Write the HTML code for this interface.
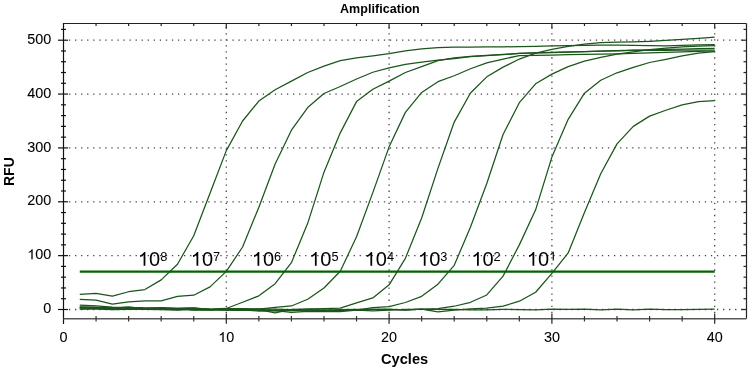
<!DOCTYPE html>
<html><head><meta charset="utf-8"><style>
html,body{margin:0;padding:0;background:#fff;}
body{width:749px;height:369px;overflow:hidden;}
svg{display:block;will-change:transform;}
</style></head><body>
<svg width="749" height="369" viewBox="0 0 749 369">
<rect width="749" height="369" fill="#fff"/>
<g stroke="#454545" stroke-width="1.3" stroke-dasharray="1.3 4.756"><line x1="68.95" y1="309.50" x2="743.50" y2="309.50"/><line x1="68.95" y1="255.64" x2="743.50" y2="255.64"/><line x1="68.95" y1="201.78" x2="743.50" y2="201.78"/><line x1="68.95" y1="147.92" x2="743.50" y2="147.92"/><line x1="68.95" y1="94.06" x2="743.50" y2="94.06"/><line x1="68.95" y1="40.20" x2="743.50" y2="40.20"/><line x1="226.30" y1="27.09" x2="226.30" y2="315.50"/><line x1="389.10" y1="27.09" x2="389.10" y2="315.50"/><line x1="551.90" y1="27.09" x2="551.90" y2="315.50"/><line x1="714.70" y1="27.09" x2="714.70" y2="315.50"/></g>
<g fill="none" stroke="#1b551b" stroke-width="1.25" stroke-linejoin="round"><polyline points="79.78,308.91 96.06,309.13 112.34,309.62 128.62,309.47 144.90,309.33 161.18,309.55 177.46,310.06 193.74,309.38 210.02,309.67 226.30,309.63 242.58,310.33 258.86,310.13 275.14,310.27 291.42,309.58 307.70,309.97 323.98,310.03 340.26,309.73 356.54,309.25 372.82,309.28 389.10,309.71 405.38,309.80 421.66,309.14 437.94,309.44 454.22,309.33 470.50,309.85 486.78,309.88 503.06,309.34 519.34,309.56 535.62,309.87 551.90,309.12 568.18,309.38 584.46,309.24 600.74,309.86 617.02,309.19 633.30,309.87 649.58,309.19 665.86,309.54 682.14,309.64 698.42,309.45 714.70,309.13"/><polyline points="79.78,307.97 96.06,307.96 112.34,308.19 128.62,307.53 144.90,308.08 161.18,308.20 177.46,308.52 193.74,310.13 210.02,310.04 226.30,309.81 242.58,309.90 258.86,311.02 275.14,310.96 291.42,310.32 307.70,310.87 323.98,310.49 340.26,310.68 356.54,309.57 372.82,309.28 389.10,309.00 405.38,310.19 421.66,309.13 437.94,311.92 454.22,310.12 470.50,308.84 486.78,308.16 503.06,306.21 519.34,301.21 535.62,292.26 551.90,273.41 568.18,252.95 584.46,212.55 600.74,173.77 617.02,143.88 633.30,126.38 649.58,116.14 665.86,110.22 682.14,104.83 698.42,101.60 714.70,100.52"/><polyline points="79.78,307.22 96.06,307.27 112.34,308.09 128.62,307.07 144.90,308.35 161.18,308.49 177.46,308.46 193.74,308.09 210.02,309.10 226.30,308.42 242.58,309.32 258.86,309.45 275.14,310.54 291.42,312.48 307.70,311.49 323.98,311.66 340.26,311.70 356.54,310.06 372.82,310.87 389.10,310.08 405.38,309.38 421.66,309.40 437.94,308.72 454.22,306.24 470.50,302.28 486.78,294.96 503.06,276.11 519.34,244.87 535.62,209.86 551.90,157.08 568.18,119.37 584.46,93.20 600.74,80.22 617.02,72.79 633.30,67.40 649.58,62.50 665.86,59.32 682.14,55.82 698.42,53.13 714.70,51.73"/><polyline points="79.78,309.14 96.06,308.28 112.34,307.99 128.62,308.34 144.90,308.53 161.18,309.11 177.46,309.73 193.74,308.79 210.02,309.68 226.30,308.98 242.58,308.69 258.86,309.68 275.14,312.90 291.42,309.27 307.70,309.65 323.98,310.43 340.26,310.32 356.54,310.10 372.82,307.73 389.10,306.55 405.38,302.50 421.66,296.30 437.94,284.19 454.22,265.33 470.50,227.09 486.78,183.47 503.06,134.46 519.34,102.68 535.62,83.83 551.90,74.13 568.18,66.59 584.46,61.21 600.74,57.44 617.02,54.20 633.30,51.78 649.58,49.52 665.86,48.01 682.14,46.93 698.42,46.12 714.70,45.59"/><polyline points="79.78,305.10 96.06,305.93 112.34,307.22 128.62,307.58 144.90,308.24 161.18,307.52 177.46,308.26 193.74,308.16 210.02,309.25 226.30,309.65 242.58,308.86 258.86,308.77 275.14,309.22 291.42,309.51 307.70,308.95 323.98,308.55 340.26,308.09 356.54,302.82 372.82,297.97 389.10,284.83 405.38,258.33 421.66,217.94 437.94,168.39 454.22,122.07 470.50,92.98 486.78,76.82 503.06,67.13 519.34,59.05 535.62,53.13 551.90,49.36 568.18,46.39 584.46,44.24 600.74,42.62 617.02,42.09 633.30,41.82 649.58,41.28 665.86,40.47 682.14,39.39 698.42,38.31 714.70,37.18"/><polyline points="79.78,307.53 96.06,307.70 112.34,308.39 128.62,307.65 144.90,308.91 161.18,309.17 177.46,309.19 193.74,309.54 210.02,309.42 226.30,310.09 242.58,310.36 258.86,309.02 275.14,307.28 291.42,305.96 307.70,299.27 323.98,287.96 340.26,271.26 356.54,236.79 372.82,192.62 389.10,146.84 405.38,112.37 421.66,92.44 437.94,81.67 454.22,75.75 470.50,68.75 486.78,62.82 503.06,59.05 519.34,55.55 535.62,55.28 551.90,55.01 568.18,54.74 584.46,54.47 600.74,54.20 617.02,53.80 633.30,53.40 649.58,52.91 665.86,52.43 682.14,51.94 698.42,51.46 714.70,50.97"/><polyline points="79.78,306.84 96.06,307.47 112.34,308.11 128.62,307.15 144.90,308.52 161.18,308.59 177.46,308.61 193.74,308.05 210.02,309.68 226.30,308.51 242.58,302.28 258.86,295.82 275.14,283.65 291.42,262.64 307.70,223.32 323.98,172.16 340.26,132.84 356.54,101.60 372.82,89.21 389.10,81.13 405.38,72.52 421.66,66.59 437.94,60.67 454.22,57.97 470.50,56.36 486.78,55.39 503.06,54.74 519.34,53.40 535.62,52.86 551.90,52.32 568.18,51.96 584.46,51.60 600.74,51.24 617.02,50.70 633.30,50.16 649.58,49.81 665.86,49.45 682.14,49.10 698.42,48.74 714.70,48.39"/><polyline points="79.78,299.27 96.06,300.07 112.34,304.11 128.62,301.96 144.90,300.88 161.18,300.88 177.46,296.30 193.74,295.23 210.02,286.88 226.30,271.42 242.58,247.02 258.86,207.17 275.14,164.08 291.42,130.15 307.70,107.53 323.98,93.52 340.26,86.52 356.54,78.98 372.82,72.25 389.10,67.94 405.38,64.44 421.66,62.01 437.94,60.13 454.22,58.51 470.50,56.63 486.78,55.55 503.06,54.47 519.34,53.40 535.62,52.99 551.90,52.59 568.18,52.14 584.46,51.69 600.74,51.24 617.02,50.84 633.30,50.43 649.58,50.35 665.86,50.26 682.14,50.17 698.42,50.09 714.70,50.00"/><polyline points="79.78,294.42 96.06,293.34 112.34,296.04 128.62,291.73 144.90,289.57 161.18,279.88 177.46,264.26 193.74,235.71 210.02,193.16 226.30,150.61 242.58,120.99 258.86,101.06 275.14,89.75 291.42,81.13 307.70,72.52 323.98,66.05 340.26,60.67 356.54,57.97 372.82,55.82 389.10,53.67 405.38,50.97 421.66,48.82 437.94,47.74 454.22,47.20 470.50,47.07 486.78,46.93 503.06,46.80 519.34,46.66 535.62,46.29 551.90,45.91 568.18,45.59 584.46,45.32 600.74,45.05 617.02,45.18 633.30,45.32 649.58,45.59 665.86,45.86 682.14,45.41 698.42,44.96 714.70,44.51"/></g>
<line x1="79.78" y1="271.7" x2="714.70" y2="271.7" stroke="#006400" stroke-width="2.2"/>
<line x1="63.5" y1="23.0" x2="63.5" y2="324" stroke="#111" stroke-width="1.2"/><line x1="63.5" y1="23.5" x2="746.5" y2="23.5" stroke="#222" stroke-width="1.2"/><line x1="746.5" y1="23.5" x2="746.5" y2="318.5" stroke="#222" stroke-width="1.2"/><line x1="63.5" y1="318.8" x2="746.5" y2="318.8" stroke="#585858" stroke-width="1.5"/><line x1="58" y1="309.50" x2="68" y2="309.50" stroke="#111" stroke-width="1.2"/><line x1="741.5" y1="309.50" x2="746.5" y2="309.50" stroke="#222" stroke-width="1.2"/><line x1="61" y1="298.73" x2="66" y2="298.73" stroke="#111" stroke-width="1.2"/><line x1="743.5" y1="298.73" x2="746.5" y2="298.73" stroke="#222" stroke-width="1.2"/><line x1="61" y1="287.96" x2="66" y2="287.96" stroke="#111" stroke-width="1.2"/><line x1="743.5" y1="287.96" x2="746.5" y2="287.96" stroke="#222" stroke-width="1.2"/><line x1="61" y1="277.18" x2="66" y2="277.18" stroke="#111" stroke-width="1.2"/><line x1="743.5" y1="277.18" x2="746.5" y2="277.18" stroke="#222" stroke-width="1.2"/><line x1="61" y1="266.41" x2="66" y2="266.41" stroke="#111" stroke-width="1.2"/><line x1="743.5" y1="266.41" x2="746.5" y2="266.41" stroke="#222" stroke-width="1.2"/><line x1="58" y1="255.64" x2="68" y2="255.64" stroke="#111" stroke-width="1.2"/><line x1="741.5" y1="255.64" x2="746.5" y2="255.64" stroke="#222" stroke-width="1.2"/><line x1="61" y1="244.87" x2="66" y2="244.87" stroke="#111" stroke-width="1.2"/><line x1="743.5" y1="244.87" x2="746.5" y2="244.87" stroke="#222" stroke-width="1.2"/><line x1="61" y1="234.10" x2="66" y2="234.10" stroke="#111" stroke-width="1.2"/><line x1="743.5" y1="234.10" x2="746.5" y2="234.10" stroke="#222" stroke-width="1.2"/><line x1="61" y1="223.32" x2="66" y2="223.32" stroke="#111" stroke-width="1.2"/><line x1="743.5" y1="223.32" x2="746.5" y2="223.32" stroke="#222" stroke-width="1.2"/><line x1="61" y1="212.55" x2="66" y2="212.55" stroke="#111" stroke-width="1.2"/><line x1="743.5" y1="212.55" x2="746.5" y2="212.55" stroke="#222" stroke-width="1.2"/><line x1="58" y1="201.78" x2="68" y2="201.78" stroke="#111" stroke-width="1.2"/><line x1="741.5" y1="201.78" x2="746.5" y2="201.78" stroke="#222" stroke-width="1.2"/><line x1="61" y1="191.01" x2="66" y2="191.01" stroke="#111" stroke-width="1.2"/><line x1="743.5" y1="191.01" x2="746.5" y2="191.01" stroke="#222" stroke-width="1.2"/><line x1="61" y1="180.24" x2="66" y2="180.24" stroke="#111" stroke-width="1.2"/><line x1="743.5" y1="180.24" x2="746.5" y2="180.24" stroke="#222" stroke-width="1.2"/><line x1="61" y1="169.46" x2="66" y2="169.46" stroke="#111" stroke-width="1.2"/><line x1="743.5" y1="169.46" x2="746.5" y2="169.46" stroke="#222" stroke-width="1.2"/><line x1="61" y1="158.69" x2="66" y2="158.69" stroke="#111" stroke-width="1.2"/><line x1="743.5" y1="158.69" x2="746.5" y2="158.69" stroke="#222" stroke-width="1.2"/><line x1="58" y1="147.92" x2="68" y2="147.92" stroke="#111" stroke-width="1.2"/><line x1="741.5" y1="147.92" x2="746.5" y2="147.92" stroke="#222" stroke-width="1.2"/><line x1="61" y1="137.15" x2="66" y2="137.15" stroke="#111" stroke-width="1.2"/><line x1="743.5" y1="137.15" x2="746.5" y2="137.15" stroke="#222" stroke-width="1.2"/><line x1="61" y1="126.38" x2="66" y2="126.38" stroke="#111" stroke-width="1.2"/><line x1="743.5" y1="126.38" x2="746.5" y2="126.38" stroke="#222" stroke-width="1.2"/><line x1="61" y1="115.60" x2="66" y2="115.60" stroke="#111" stroke-width="1.2"/><line x1="743.5" y1="115.60" x2="746.5" y2="115.60" stroke="#222" stroke-width="1.2"/><line x1="61" y1="104.83" x2="66" y2="104.83" stroke="#111" stroke-width="1.2"/><line x1="743.5" y1="104.83" x2="746.5" y2="104.83" stroke="#222" stroke-width="1.2"/><line x1="58" y1="94.06" x2="68" y2="94.06" stroke="#111" stroke-width="1.2"/><line x1="741.5" y1="94.06" x2="746.5" y2="94.06" stroke="#222" stroke-width="1.2"/><line x1="61" y1="83.29" x2="66" y2="83.29" stroke="#111" stroke-width="1.2"/><line x1="743.5" y1="83.29" x2="746.5" y2="83.29" stroke="#222" stroke-width="1.2"/><line x1="61" y1="72.52" x2="66" y2="72.52" stroke="#111" stroke-width="1.2"/><line x1="743.5" y1="72.52" x2="746.5" y2="72.52" stroke="#222" stroke-width="1.2"/><line x1="61" y1="61.74" x2="66" y2="61.74" stroke="#111" stroke-width="1.2"/><line x1="743.5" y1="61.74" x2="746.5" y2="61.74" stroke="#222" stroke-width="1.2"/><line x1="61" y1="50.97" x2="66" y2="50.97" stroke="#111" stroke-width="1.2"/><line x1="743.5" y1="50.97" x2="746.5" y2="50.97" stroke="#222" stroke-width="1.2"/><line x1="58" y1="40.20" x2="68" y2="40.20" stroke="#111" stroke-width="1.2"/><line x1="741.5" y1="40.20" x2="746.5" y2="40.20" stroke="#222" stroke-width="1.2"/><line x1="61" y1="29.43" x2="66" y2="29.43" stroke="#111" stroke-width="1.2"/><line x1="743.5" y1="29.43" x2="746.5" y2="29.43" stroke="#222" stroke-width="1.2"/><line x1="96.06" y1="23.5" x2="96.06" y2="26.0" stroke="#222" stroke-width="1.2"/><line x1="96.06" y1="316" x2="96.06" y2="321.5" stroke="#333" stroke-width="1.2"/><line x1="128.62" y1="23.5" x2="128.62" y2="26.0" stroke="#222" stroke-width="1.2"/><line x1="128.62" y1="316" x2="128.62" y2="321.5" stroke="#333" stroke-width="1.2"/><line x1="161.18" y1="23.5" x2="161.18" y2="26.0" stroke="#222" stroke-width="1.2"/><line x1="161.18" y1="316" x2="161.18" y2="321.5" stroke="#333" stroke-width="1.2"/><line x1="193.74" y1="23.5" x2="193.74" y2="26.0" stroke="#222" stroke-width="1.2"/><line x1="193.74" y1="316" x2="193.74" y2="321.5" stroke="#333" stroke-width="1.2"/><line x1="226.30" y1="23.5" x2="226.30" y2="28.5" stroke="#222" stroke-width="1.2"/><line x1="226.30" y1="313.5" x2="226.30" y2="323.7" stroke="#222" stroke-width="1.2"/><line x1="258.86" y1="23.5" x2="258.86" y2="26.0" stroke="#222" stroke-width="1.2"/><line x1="258.86" y1="316" x2="258.86" y2="321.5" stroke="#333" stroke-width="1.2"/><line x1="291.42" y1="23.5" x2="291.42" y2="26.0" stroke="#222" stroke-width="1.2"/><line x1="291.42" y1="316" x2="291.42" y2="321.5" stroke="#333" stroke-width="1.2"/><line x1="323.98" y1="23.5" x2="323.98" y2="26.0" stroke="#222" stroke-width="1.2"/><line x1="323.98" y1="316" x2="323.98" y2="321.5" stroke="#333" stroke-width="1.2"/><line x1="356.54" y1="23.5" x2="356.54" y2="26.0" stroke="#222" stroke-width="1.2"/><line x1="356.54" y1="316" x2="356.54" y2="321.5" stroke="#333" stroke-width="1.2"/><line x1="389.10" y1="23.5" x2="389.10" y2="28.5" stroke="#222" stroke-width="1.2"/><line x1="389.10" y1="313.5" x2="389.10" y2="323.7" stroke="#222" stroke-width="1.2"/><line x1="421.66" y1="23.5" x2="421.66" y2="26.0" stroke="#222" stroke-width="1.2"/><line x1="421.66" y1="316" x2="421.66" y2="321.5" stroke="#333" stroke-width="1.2"/><line x1="454.22" y1="23.5" x2="454.22" y2="26.0" stroke="#222" stroke-width="1.2"/><line x1="454.22" y1="316" x2="454.22" y2="321.5" stroke="#333" stroke-width="1.2"/><line x1="486.78" y1="23.5" x2="486.78" y2="26.0" stroke="#222" stroke-width="1.2"/><line x1="486.78" y1="316" x2="486.78" y2="321.5" stroke="#333" stroke-width="1.2"/><line x1="519.34" y1="23.5" x2="519.34" y2="26.0" stroke="#222" stroke-width="1.2"/><line x1="519.34" y1="316" x2="519.34" y2="321.5" stroke="#333" stroke-width="1.2"/><line x1="551.90" y1="23.5" x2="551.90" y2="28.5" stroke="#222" stroke-width="1.2"/><line x1="551.90" y1="313.5" x2="551.90" y2="323.7" stroke="#222" stroke-width="1.2"/><line x1="584.46" y1="23.5" x2="584.46" y2="26.0" stroke="#222" stroke-width="1.2"/><line x1="584.46" y1="316" x2="584.46" y2="321.5" stroke="#333" stroke-width="1.2"/><line x1="617.02" y1="23.5" x2="617.02" y2="26.0" stroke="#222" stroke-width="1.2"/><line x1="617.02" y1="316" x2="617.02" y2="321.5" stroke="#333" stroke-width="1.2"/><line x1="649.58" y1="23.5" x2="649.58" y2="26.0" stroke="#222" stroke-width="1.2"/><line x1="649.58" y1="316" x2="649.58" y2="321.5" stroke="#333" stroke-width="1.2"/><line x1="682.14" y1="23.5" x2="682.14" y2="26.0" stroke="#222" stroke-width="1.2"/><line x1="682.14" y1="316" x2="682.14" y2="321.5" stroke="#333" stroke-width="1.2"/><line x1="714.70" y1="23.5" x2="714.70" y2="28.5" stroke="#222" stroke-width="1.2"/><line x1="714.70" y1="313.5" x2="714.70" y2="323.7" stroke="#222" stroke-width="1.2"/>
<g font-family="Liberation Sans, sans-serif" fill="#000" stroke="#000" stroke-width="0.08"><text x="43.29" y="313.10" font-size="14.4">0</text><text x="27.27" y="259.24" font-size="14.4"><tspan fill="transparent" stroke="none">1</tspan>00</text><path d="M32.64 259.24L31.37 259.24L31.37 251.51C31.07 251.79 30.67 252.07 30.18 252.35C29.68 252.63 29.24 252.83 28.84 252.97L28.84 251.79C29.55 251.47 30.16 251.08 30.69 250.63C31.22 250.17 31.59 249.73 31.81 249.33L32.64 249.33Z"/><text x="27.27" y="205.38" font-size="14.4">200</text><text x="27.27" y="151.52" font-size="14.4">300</text><text x="27.27" y="97.66" font-size="14.4">400</text><text x="27.27" y="43.80" font-size="14.4">500</text><text x="59.50" y="341.90" font-size="14.4">0</text><text x="218.29" y="341.90" font-size="14.4"><tspan fill="transparent" stroke="none">1</tspan>0</text><path d="M223.66 341.90L222.39 341.90L222.39 334.17C222.09 334.45 221.69 334.73 221.20 335.01C220.70 335.29 220.25 335.49 219.86 335.63L219.86 334.45C220.56 334.13 221.18 333.74 221.71 333.29C222.24 332.83 222.61 332.39 222.83 331.99L223.66 331.99Z"/><text x="381.09" y="341.90" font-size="14.4">20</text><text x="543.89" y="341.90" font-size="14.4">30</text><text x="706.69" y="341.90" font-size="14.4">40</text></g>
<text x="379.9" y="12.7" text-anchor="middle" font-family="Liberation Sans, sans-serif" font-weight="bold" font-size="12.5" letter-spacing="0.05" fill="#000">Amplification</text>
<text x="404.6" y="364" text-anchor="middle" font-family="Liberation Sans, sans-serif" font-weight="bold" font-size="14.6" fill="#000">Cycles</text>
<text transform="translate(13.6 171.6) rotate(-90)" text-anchor="middle" font-family="Liberation Sans, sans-serif" font-weight="bold" font-size="14" fill="#000">RFU</text>
<g font-family="Liberation Sans, sans-serif" fill="#000"><text x="137.92" y="265.7" font-size="20"><tspan fill="transparent" stroke="none">1</tspan>0<tspan x="160.17" y="260.5" font-size="12.8">8</tspan></text><path d="M145.37 265.70L143.61 265.70L143.61 254.96C143.19 255.35 142.64 255.74 141.95 256.13C141.26 256.52 140.64 256.79 140.10 256.99L140.10 255.35C141.07 254.91 141.93 254.37 142.67 253.74C143.40 253.10 143.92 252.50 144.22 251.94L145.37 251.94Z"/><text x="190.82" y="265.7" font-size="20"><tspan fill="transparent" stroke="none">1</tspan>0<tspan x="213.07" y="260.5" font-size="12.8">7</tspan></text><path d="M198.27 265.70L196.51 265.70L196.51 254.96C196.09 255.35 195.54 255.74 194.85 256.13C194.16 256.52 193.54 256.79 193.00 256.99L193.00 255.35C193.97 254.91 194.83 254.37 195.57 253.74C196.30 253.10 196.82 252.50 197.12 251.94L198.27 251.94Z"/><text x="251.82" y="265.7" font-size="20"><tspan fill="transparent" stroke="none">1</tspan>0<tspan x="274.07" y="260.5" font-size="12.8">6</tspan></text><path d="M259.27 265.70L257.51 265.70L257.51 254.96C257.09 255.35 256.54 255.74 255.85 256.13C255.16 256.52 254.54 256.79 254.00 256.99L254.00 255.35C254.97 254.91 255.83 254.37 256.57 253.74C257.30 253.10 257.82 252.50 258.12 251.94L259.27 251.94Z"/><text x="309.22" y="265.7" font-size="20"><tspan fill="transparent" stroke="none">1</tspan>0<tspan x="331.47" y="260.5" font-size="12.8">5</tspan></text><path d="M316.67 265.70L314.91 265.70L314.91 254.96C314.49 255.35 313.94 255.74 313.25 256.13C312.56 256.52 311.94 256.79 311.40 256.99L311.40 255.35C312.37 254.91 313.23 254.37 313.97 253.74C314.70 253.10 315.22 252.50 315.52 251.94L316.67 251.94Z"/><text x="364.72" y="265.7" font-size="20"><tspan fill="transparent" stroke="none">1</tspan>0<tspan x="386.97" y="260.5" font-size="12.8">4</tspan></text><path d="M372.17 265.70L370.41 265.70L370.41 254.96C369.99 255.35 369.44 255.74 368.75 256.13C368.06 256.52 367.44 256.79 366.90 256.99L366.90 255.35C367.87 254.91 368.73 254.37 369.47 253.74C370.20 253.10 370.72 252.50 371.02 251.94L372.17 251.94Z"/><text x="418.12" y="265.7" font-size="20"><tspan fill="transparent" stroke="none">1</tspan>0<tspan x="440.37" y="260.5" font-size="12.8">3</tspan></text><path d="M425.57 265.70L423.81 265.70L423.81 254.96C423.39 255.35 422.84 255.74 422.15 256.13C421.46 256.52 420.84 256.79 420.30 256.99L420.30 255.35C421.27 254.91 422.13 254.37 422.87 253.74C423.60 253.10 424.12 252.50 424.42 251.94L425.57 251.94Z"/><text x="471.32" y="265.7" font-size="20"><tspan fill="transparent" stroke="none">1</tspan>0<tspan x="493.57" y="260.5" font-size="12.8">2</tspan></text><path d="M478.77 265.70L477.01 265.70L477.01 254.96C476.59 255.35 476.04 255.74 475.35 256.13C474.66 256.52 474.04 256.79 473.50 256.99L473.50 255.35C474.47 254.91 475.33 254.37 476.07 253.74C476.80 253.10 477.32 252.50 477.62 251.94L478.77 251.94Z"/><text x="526.82" y="265.7" font-size="20"><tspan fill="transparent" stroke="none">1</tspan>0<tspan x="549.07" y="260.5" font-size="12.8" fill="transparent">1</tspan></text><path d="M534.27 265.70L532.51 265.70L532.51 254.96C532.09 255.35 531.54 255.74 530.85 256.13C530.16 256.52 529.54 256.79 529.00 256.99L529.00 255.35C529.97 254.91 530.83 254.37 531.57 253.74C532.30 253.10 532.82 252.50 533.12 251.94L534.27 251.94ZM553.83 260.50L552.71 260.50L552.71 253.62C552.44 253.88 552.08 254.12 551.65 254.38C551.20 254.62 550.81 254.80 550.46 254.93L550.46 253.88C551.08 253.59 551.63 253.25 552.10 252.84C552.57 252.44 552.90 252.05 553.10 251.69L553.83 251.69Z"/></g>
</svg>
</body></html>
